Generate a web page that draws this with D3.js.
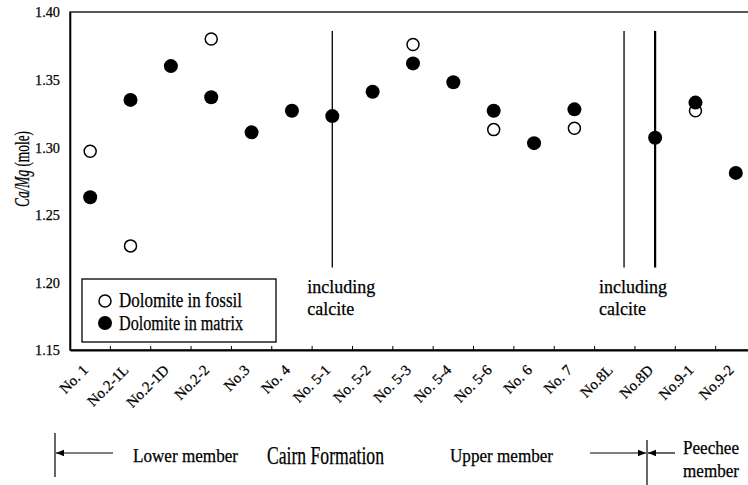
<!DOCTYPE html>
<html>
<head>
<meta charset="utf-8">
<script src="https://cdn.jsdelivr.net/npm/d3@7"></script>
<style>
  body { margin: 0; background: #fff; }
  svg { display: block; font-family: "Liberation Serif", "Times New Roman", serif; }
  svg text { stroke: #000; stroke-width: 0.25px; }
</style>
</head>
<body>
<div id="chart"></div>
<script>
'use strict';

// sample names along the section
const categories = ["No. 1", "No.2-1L", "No.2-1D", "No.2-2", "No.3", "No. 4", "No. 5-1", "No. 5-2",
    "No. 5-3", "No. 5-4", "No. 5-6", "No. 6", "No. 7", "No.8L", "No.8D", "No.9-1", "No.9-2"];
// Ca/Mg of dolomite in fossil (open) and in matrix (filled); null = no value
const fossil = [1.297, 1.227, null, 1.380, null, null, null, null,
    1.376, null, 1.313, null, 1.314, null, null, 1.327, null];
const matrix = [1.263, 1.335, 1.360, 1.337, 1.311, 1.327, 1.323, 1.341,
    1.362, 1.348, 1.327, 1.303, 1.328, null, 1.307, 1.333, 1.281];
const yTicks = [1.15, 1.20, 1.25, 1.30, 1.35, 1.40];
// "including calcite" marker lines: category + offset in bands
const calciteLines = [
    { cat: "No. 5-1", offset: 0, w: 1.3, label: true },
    { cat: "No.8L", offset: 0.23, w: 1.3, label: true },
    { cat: "No.8D", offset: 0, w: 2.2, label: false }
];

const width = 748;
const height = 485;
const margin = { top: 12, bottom: 135, left: 70, right: -8 };

const svg = d3.select("#chart")
    .append("svg")
    .attr("width", width)
    .attr("height", height);

const xScale = d3.scaleBand()
    .domain(categories)
    .range([margin.left, width - margin.right])
    .padding(0);

const yScale = d3.scaleLinear()
    .domain([1.15, 1.40])
    .range([height - margin.bottom, margin.top]);

const cx = d => xScale(d) + xScale.bandwidth() / 2;

// frame (top line, right side runs off the picture)
svg.append("rect")
    .attr("x", margin.left)
    .attr("y", margin.top)
    .attr("width", width - margin.right - margin.left)
    .attr("height", height - margin.bottom - margin.top)
    .attr("fill", "none")
    .attr("stroke", "#000")
    .attr("stroke-width", 1.3);

// y axis
const yAxis = d3.axisLeft(yScale)
    .tickValues(yTicks)
    .tickFormat(d3.format(".2f"))
    .tickSize(0)
    .tickPadding(10);

svg.append("g")
    .attr("class", "axis y-axis")
    .attr("transform", `translate(${margin.left},0)`)
    .call(yAxis)
    .call(g => g.select(".domain").attr("stroke-width", 1.6))
    .selectAll("text")
    .attr("font-family", "'Liberation Serif', serif")
    .attr("font-size", 15)
    .attr("textLength", 25)
    .attr("lengthAdjust", "spacingAndGlyphs")
    .attr("fill", "#000");

// x axis: line, inside ticks at band edges, rotated labels
const xAxis = d3.axisBottom(xScale).tickSize(0).tickFormat("");
svg.append("g")
    .attr("class", "axis x-axis")
    .attr("transform", `translate(0,${height - margin.bottom})`)
    .call(xAxis)
    .call(g => g.select(".domain").attr("stroke-width", 2));

svg.append("g")
    .selectAll("line")
    .data(categories.slice(1))
    .join("line")
    .attr("x1", d => xScale(d))
    .attr("x2", d => xScale(d))
    .attr("y1", height - margin.bottom)
    .attr("y2", height - margin.bottom - 4)
    .attr("stroke", "#000")
    .attr("stroke-width", 1);

svg.append("g")
    .selectAll("text")
    .data(categories)
    .join("text")
    .attr("transform", d => `translate(${cx(d) - 1},${height - margin.bottom + 21}) rotate(-45)`)
    .attr("text-anchor", "end")
    .attr("font-size", 15)
    .attr("fill", "#000")
    .text(d => d);

// y axis title
svg.append("text")
    .attr("transform", `translate(29,${(margin.top + height - margin.bottom) / 2 - 12}) rotate(-90)`)
    .attr("text-anchor", "middle")
    .attr("font-size", 20)
    .attr("textLength", 76)
    .attr("lengthAdjust", "spacingAndGlyphs")
    .call(t => t.append("tspan").attr("font-style", "italic").text("Ca/Mg"))
    .call(t => t.append("tspan").text(" (mole)"));

// calcite lines + labels
const lineTop = yScale(1.386);
const lineBottom = yScale(1.211);
const lx = d => cx(d.cat) + d.offset * xScale.bandwidth();

svg.append("g")
    .selectAll("line")
    .data(calciteLines)
    .join("line")
    .attr("x1", lx)
    .attr("x2", lx)
    .attr("y1", lineTop)
    .attr("y2", lineBottom)
    .attr("stroke", "#000")
    .attr("stroke-width", d => d.w);

const labs = svg.append("g")
    .selectAll("text")
    .data(calciteLines.filter(d => d.label))
    .join("text")
    .attr("font-size", 18)
    .attr("fill", "#000");
labs.append("tspan").attr("x", d => lx(d) - 25).attr("y", lineBottom + 25).text("including");
labs.append("tspan").attr("x", d => lx(d) - 25).attr("y", lineBottom + 47).text("calcite");

// points: fossil under matrix
svg.append("g")
    .selectAll("circle")
    .data(categories.map((c, i) => ({ c, v: fossil[i] })).filter(d => d.v !== null))
    .join("circle")
    .attr("cx", d => cx(d.c))
    .attr("cy", d => yScale(d.v))
    .attr("r", 6)
    .attr("fill", "#fff")
    .attr("stroke", "#000")
    .attr("stroke-width", 1.5);

svg.append("g")
    .selectAll("circle")
    .data(categories.map((c, i) => ({ c, v: matrix[i] })).filter(d => d.v !== null))
    .join("circle")
    .attr("cx", d => cx(d.c))
    .attr("cy", d => yScale(d.v))
    .attr("r", 7)
    .attr("fill", "#000");

// legend
const legend = svg.append("g").attr("transform", "translate(82,279)");
legend.append("rect")
    .attr("width", 194)
    .attr("height", 63)
    .attr("fill", "#fff")
    .attr("stroke", "#000")
    .attr("stroke-width", 1.3);
legend.append("circle").attr("cx", 23).attr("cy", 22).attr("r", 6)
    .attr("fill", "#fff").attr("stroke", "#000").attr("stroke-width", 1.5);
legend.append("circle").attr("cx", 23).attr("cy", 44).attr("r", 7).attr("fill", "#000");
legend.append("text").attr("x", 37).attr("y", 28).attr("font-size", 20)
    .attr("textLength", 123).attr("lengthAdjust", "spacingAndGlyphs").text("Dolomite in fossil");
legend.append("text").attr("x", 37).attr("y", 51).attr("font-size", 20)
    .attr("textLength", 124).attr("lengthAdjust", "spacingAndGlyphs").text("Dolomite in matrix");

// formation / member annotations below the axis
const defs = svg.append("defs");
defs.append("marker")
    .attr("id", "arrow")
    .attr("viewBox", "0 0 10 10")
    .attr("refX", 10).attr("refY", 5)
    .attr("markerWidth", 8).attr("markerHeight", 8)
    .attr("markerUnits", "userSpaceOnUse")
    .attr("orient", "auto")
    .append("path")
    .attr("d", "M0,1 L10,5 L0,9 Z")
    .attr("fill", "#000");

const ann = svg.append("g");
const arrowY = 453;
const divX = 647;
ann.append("line").attr("x1", 55).attr("x2", 55).attr("y1", 433).attr("y2", 477)
    .attr("stroke", "#000").attr("stroke-width", 1.2);
ann.append("line").attr("x1", divX).attr("x2", divX).attr("y1", 440).attr("y2", 485)
    .attr("stroke", "#000").attr("stroke-width", 1.2);
[[113, 56], [590, divX - 1], [675, divX + 1]].forEach(([a, b]) => {
    ann.append("line")
        .attr("x1", a).attr("x2", b).attr("y1", arrowY).attr("y2", arrowY)
        .attr("stroke", "#000").attr("stroke-width", 1.2)
        .attr("marker-end", "url(#arrow)");
});
ann.append("text").attr("x", 133).attr("y", 462).attr("font-size", 19)
    .attr("textLength", 105).attr("lengthAdjust", "spacingAndGlyphs").text("Lower member");
ann.append("text").attr("x", 267).attr("y", 464).attr("font-size", 25)
    .attr("textLength", 117).attr("lengthAdjust", "spacingAndGlyphs").text("Cairn Formation");
ann.append("text").attr("x", 450).attr("y", 462).attr("font-size", 19)
    .attr("textLength", 103).attr("lengthAdjust", "spacingAndGlyphs").text("Upper member");
ann.append("text").attr("x", 683).attr("y", 454).attr("font-size", 18)
    .attr("textLength", 56).attr("lengthAdjust", "spacingAndGlyphs").text("Peechee");
ann.append("text").attr("x", 683).attr("y", 477).attr("font-size", 18)
    .attr("textLength", 56).attr("lengthAdjust", "spacingAndGlyphs").text("member");
</script>
</body>
</html>
